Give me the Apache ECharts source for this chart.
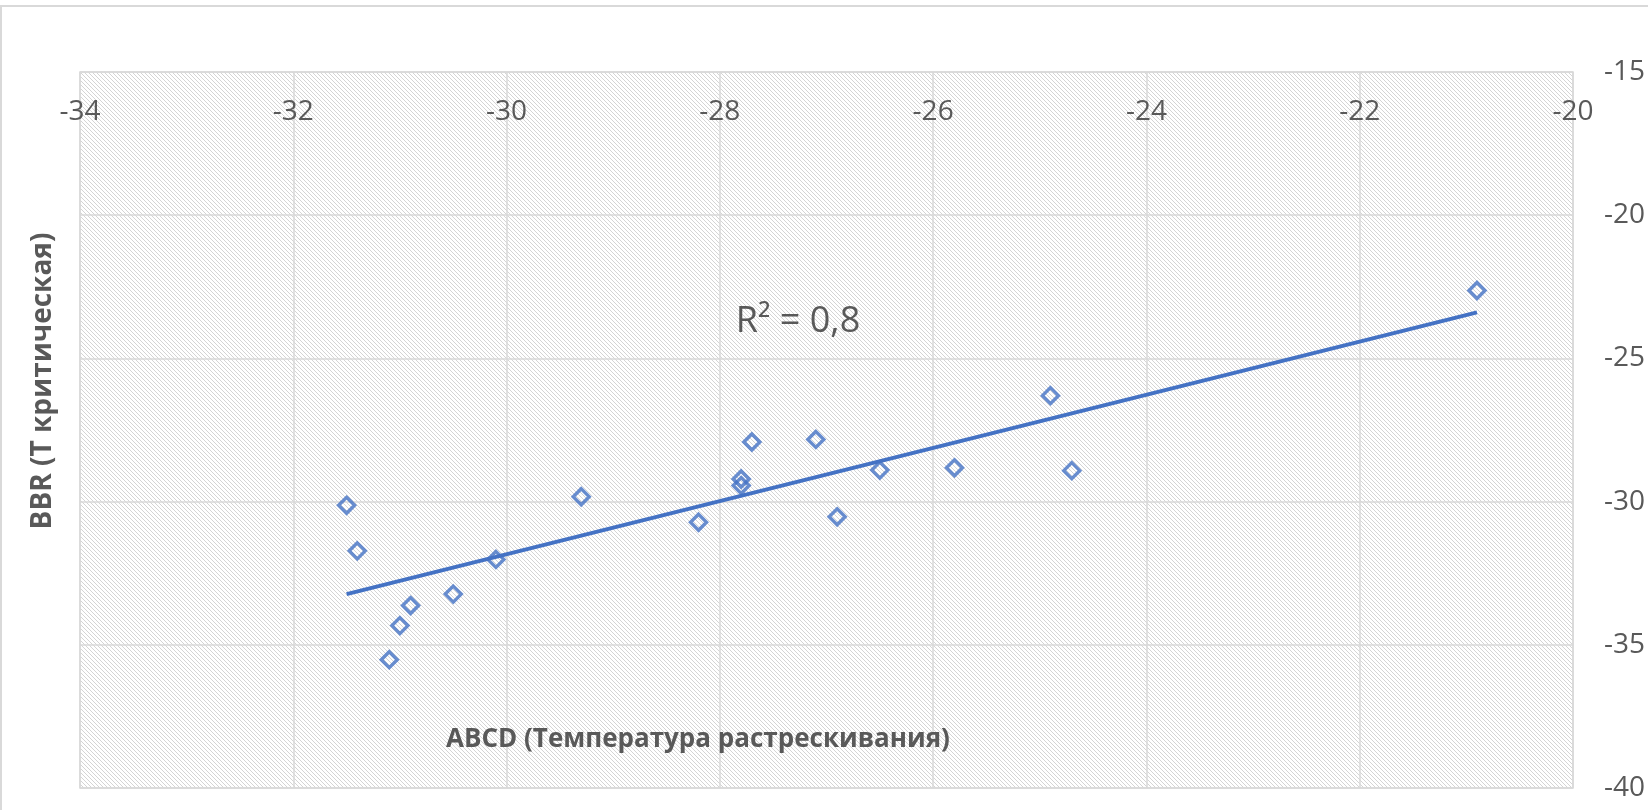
<!DOCTYPE html>
<html>
<head>
<meta charset="utf-8">
<title>BBR vs ABCD</title>
<script src="https://cdn.jsdelivr.net/npm/echarts@6/dist/echarts.min.js"></script>
<style>
  html, body { margin: 0; padding: 0; background: #fff; }
  #chart { width: 1648px; height: 810px; }
</style>
</head>
<body>
<div id="chart"></div>
<script>
// ABCD (температура растрескивания), °C
const abcdValues = [-31.5, -31.4, -30.1, -30.5, -30.9, -31.0, -31.1, -29.3, -28.2, -27.8,
  -27.8, -27.7, -27.1, -26.9, -26.5, -25.8, -24.9, -24.7, -20.9]
// BBR (T критическая), °C
const bbrValues = [-30.13, -31.72, -32.02, -33.23, -33.63, -34.33, -35.52, -29.83, -30.72, -29.21,
  -29.44, -27.92, -27.83, -30.53, -28.9, -28.82, -26.3, -28.92, -22.63]

const xTicks = { min: -34, max: -20, step: 2 }
const yTicks = { min: -40, max: -15, step: 5 }
const r2Label = 'R² = 0,8'

const textColor = '#595959'
const gridColor = '#d9d9d9'
const seriesColor = '#4472C4'
const fontFamily = '"Open Sans", "Noto Sans", sans-serif'

// точки для диаграммы рассеяния
const points = abcdValues.map((x, i) => [x, bbrValues[i]])

// линейный тренд (метод наименьших квадратов), как у Excel
const linearTrend = (xs, ys) => {
  const n = xs.length
  const mx = xs.reduce((a, b) => a + b, 0) / n
  const my = ys.reduce((a, b) => a + b, 0) / n
  let sxy = 0, sxx = 0
  xs.forEach((x, i) => {
    sxy += (x - mx) * (ys[i] - my)
    sxx += (x - mx) * (x - mx)
  })
  const k = sxy / sxx
  const b = my - k * mx
  const x0 = Math.min(...xs)
  const x1 = Math.max(...xs)
  return [[x0, k * x0 + b], [x1, k * x1 + b]]
}
const trendPoints = linearTrend(abcdValues, bbrValues)

// штриховка фона области построения
const makeHatch = () => {
  const c = document.createElement('canvas')
  c.width = 4
  c.height = 4
  const ctx = c.getContext('2d')
  ctx.fillStyle = '#ffffff'
  ctx.fillRect(0, 0, 4, 4)
  ctx.fillStyle = '#d4d4d4'
  for (let i = 0; i < 4; i++) ctx.fillRect(i, i, 1, 1)
  return { image: c, repeat: 'repeat' }
}

const chart = echarts.init(document.getElementById('chart'))

const option = {
  backgroundColor: '#ffffff',
  animation: false,
  grid: {
    left: 80,
    top: 72,
    right: 71,
    bottom: 22,
    show: true,
    backgroundColor: makeHatch(),
    borderColor: gridColor,
    borderWidth: 1.5
  },
  xAxis: {
    type: 'value',
    position: 'top',
    min: xTicks.min,
    max: xTicks.max,
    interval: xTicks.step,
    axisLine: { show: false },
    axisTick: { show: false },
    axisLabel: {
      inside: true,
      margin: 26,
      color: textColor,
      fontSize: 28,
      fontFamily: fontFamily
    },
    splitLine: { lineStyle: { color: gridColor, width: 1.5 } }
  },
  yAxis: {
    type: 'value',
    position: 'right',
    min: yTicks.min,
    max: yTicks.max,
    interval: yTicks.step,
    axisLine: { show: false },
    axisTick: { show: false },
    axisLabel: {
      margin: 31,
      color: textColor,
      fontSize: 28,
      fontFamily: fontFamily
    },
    splitLine: { lineStyle: { color: gridColor, width: 1.5 } }
  },
  graphic: [
    {
      type: 'rect',
      silent: true,
      z: -1,
      shape: { x: 1, y: 6, width: 1700, height: 900 },
      style: { fill: 'none', stroke: gridColor, lineWidth: 2 }
    },
    {
      type: 'text',
      x: 43,
      y: 381,
      rotation: Math.PI / 2,
      style: {
        text: 'BBR (T критическая)',
        fill: textColor,
        font: 'bold 28px ' + fontFamily,
        align: 'center',
        verticalAlign: 'middle'
      }
    },
    {
      type: 'text',
      x: 698,
      y: 740,
      z: 10,
      style: {
        text: 'ABCD (Температура растрескивания)',
        fill: textColor,
        font: 'bold 26px ' + fontFamily,
        align: 'center',
        verticalAlign: 'middle'
      }
    },
    {
      type: 'text',
      x: 798,
      y: 322,
      z: 10,
      style: {
        text: r2Label,
        fill: textColor,
        font: '36px ' + fontFamily,
        align: 'center',
        verticalAlign: 'middle'
      }
    }
  ],
  series: [
    {
      name: 'BBR',
      type: 'scatter',
      data: points,
      symbol: 'diamond',
      symbolSize: 16,
      itemStyle: {
        color: 'rgba(255,255,255,0)',
        borderColor: seriesColor,
        borderWidth: 3.4
      },
      z: 2
    },
    {
      name: 'Линейная (BBR)',
      type: 'line',
      data: trendPoints,
      symbol: 'none',
      lineStyle: { color: seriesColor, width: 4 },
      z: 3
    }
  ]
}

chart.setOption(option)
window.addEventListener('resize', () => chart.resize())
</script>
</body>
</html>
